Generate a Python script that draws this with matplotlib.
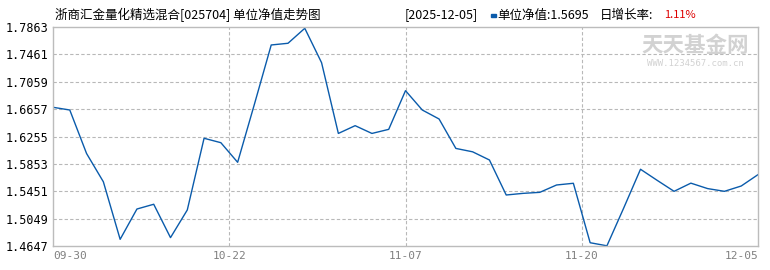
import numpy as np
import matplotlib.pyplot as plt

plt.rcParams["font.family"] = ["Noto Sans CJK SC", "DejaVu Sans"]

# unit NAV, one value per trading day (09-30 .. 12-05)
nav = [
    1.6684, 1.6644, 1.6005, 1.5590, 1.4745, 1.5190, 1.5260, 1.4770, 1.5176, 1.6229,
    1.6164, 1.5876, 1.6730, 1.7599, 1.7624, 1.7844, 1.7339, 1.6300, 1.6414, 1.6300,
    1.6360, 1.6928, 1.6644, 1.6512, 1.6080, 1.6030, 1.5910, 1.5396, 1.5420, 1.5435,
    1.5543, 1.5568, 1.4695, 1.4650, 1.5205, 1.5774, 1.5610, 1.5450, 1.5570, 1.5490,
    1.5450, 1.5528, 1.5695,
]
x_labels = ["09-30", "10-22", "11-07", "11-20", "12-05"]
y_ticks = [1.4647, 1.5049, 1.5451, 1.5853, 1.6255, 1.6657, 1.7059, 1.7461, 1.7863]

W, H = 770, 270
fig = plt.figure(figsize=(W / 100, H / 100), dpi=100)
ax = fig.add_axes([53 / W, 1 - 246 / H, (758 - 53) / W, (246 - 27) / H])

x = np.arange(len(nav))
ax.plot(x, nav, color="#0a5bab", linewidth=1.0)

n = len(nav) - 1
ax.set_xlim(0, n)
ax.set_ylim(y_ticks[0], y_ticks[-1])

# grid
for v in y_ticks[1:-1]:
    ax.axhline(v, color="#b8b8b8", linestyle=(0, (3, 2)), linewidth=0.8, zorder=0)
x_pos = np.linspace(0, n, 5)
for v in x_pos[1:-1]:
    ax.axvline(v, color="#b8b8b8", linestyle=(0, (3, 2)), linewidth=0.8, zorder=0)

for s in ax.spines.values():
    s.set_color("#bcbcbc")
    s.set_linewidth(1.0)

ax.set_yticks(y_ticks)
ax.set_yticklabels([f"{v:.4f}" for v in y_ticks], fontsize=8.5, family="DejaVu Sans Mono")
ax.tick_params(axis="y", length=0, pad=3, colors="black")
ax.set_xticks([])
aligns = ["left", "center", "center", "center", "right"]
for pos, lab, ha in zip(x_pos, x_labels, aligns):
    ax.text(pos, -0.025, lab, transform=ax.get_xaxis_transform(), ha=ha, va="top",
            fontsize=8, color="#808080", family="DejaVu Sans Mono")

# header texts
fig.text(55 / W, 1 - 15 / H, "浙商汇金量化精选混合[025704] 单位净值走势图",
         fontsize=9, va="center", ha="left")
fig.text(405 / W, 1 - 15 / H, "[2025-12-05]", fontsize=9, va="center", ha="left")
fig.patches.append(plt.Rectangle((491 / W, 1 - 16.5 / H), 5 / W, 3 / H,
                                 color="#0a5bab", transform=fig.transFigure))
fig.text(497 / W, 1 - 15 / H, "单位净值:1.5695", fontsize=9, va="center", ha="left")
fig.text(600 / W, 1 - 15 / H, "日增长率:", fontsize=9, va="center", ha="left")
fig.text(664 / W, 1 - 15 / H, "1.11%", fontsize=8, va="center", ha="left", color="#dd0000")

# watermark
fig.text(695 / W, 1 - 45 / H, "天天基金网", fontsize=15.5, color="#d2d2d2",
         ha="center", va="center", fontweight="bold")
fig.text(695 / W, 1 - 63 / H, "WWW.1234567.com.cn", fontsize=6.5, color="#d2d2d2",
         ha="center", va="center", family="DejaVu Sans Mono")

fig.savefig("out.png", dpi=100)
